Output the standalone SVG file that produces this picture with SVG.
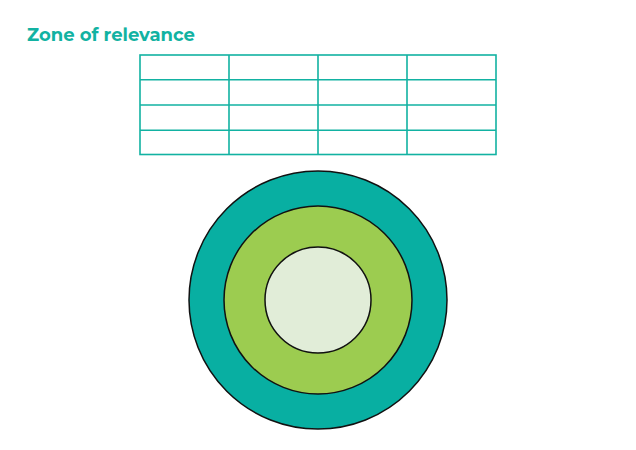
<svg xmlns="http://www.w3.org/2000/svg" width="636" height="450" viewBox="0 0 636 450">
<style>
.t{font-family:"Montserrat","Liberation Sans",Arial,sans-serif;font-weight:bold;font-size:18px;fill:#12B2A2}
.g{fill:none;stroke:#12B2A2;stroke-width:1.6}
.c{stroke:#111;stroke-width:1.5}
</style>
<rect width="636" height="450" fill="#fff"/>
<text class="t" x="27" y="41">Zone of relevance</text>
<g id="table">
<rect class="g" x="140" y="55" width="356" height="99.5"/>
<path class="g" d="M229 55V154.5M318 55V154.5M407 55V154.5M140 79.7H496M140 105H496M140 130.2H496"/>
</g>
<g id="outer"><circle class="c" cx="318" cy="300" r="129" fill="#08AFA2"/></g>
<g id="middle"><circle class="c" cx="318" cy="300" r="94" fill="#9CCC50"/></g>
<g id="inner"><circle class="c" cx="318" cy="300" r="53" fill="#E1EDD8"/></g>
<g id="connectors"/>
</svg>
